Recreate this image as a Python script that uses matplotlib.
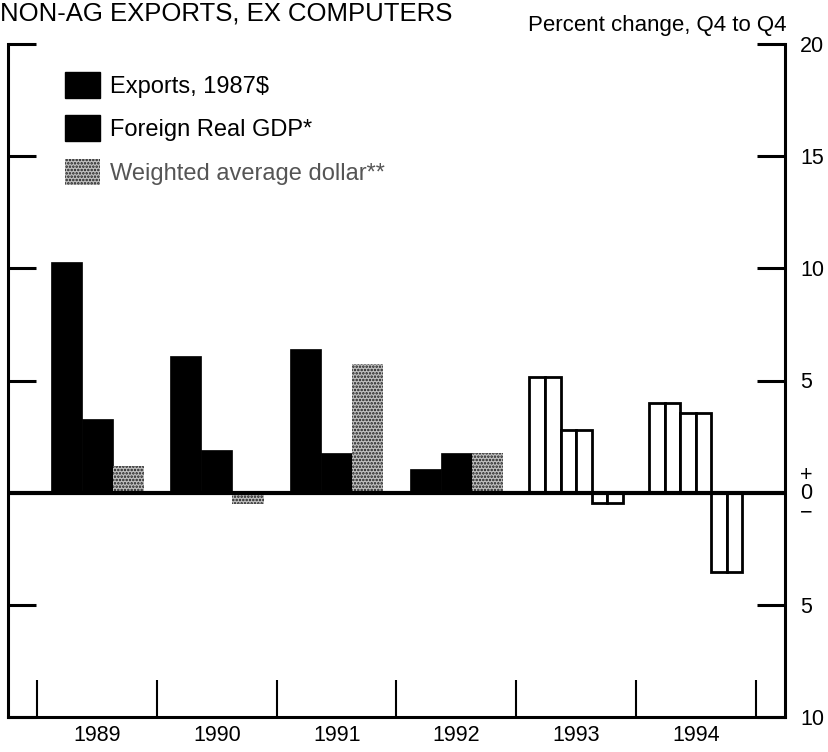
import matplotlib
matplotlib.use("Agg")
import matplotlib.pyplot as plt
import numpy as np
from matplotlib.patches import Patch

plt.rcParams['font.family'] = ['Liberation Sans', 'DejaVu Sans']
plt.rcParams['hatch.linewidth'] = 1.2

years = ['1989', '1990', '1991', '1992', '1993', '1994']
exports = [10.3, 6.1, 6.4, 1.05, 5.15, 4.0]
foreign_gdp = [3.3, 1.9, 1.75, 1.75, 2.8, 3.55]
dollar = [1.2, -0.5, 5.75, 1.75, -0.45, -3.55]
projected = [False, False, False, False, True, True]

series_labels = ['Exports, 1987$', 'Foreign Real GDP*', 'Weighted average dollar**']
ytick_vals = [20, 15, 10, 5, 0, -5, -10]
ytick_text = ['20', '15', '10', '5', '+\n0\n\u2212', '5', '10']

fig = plt.figure(figsize=(8.29, 7.52), dpi=100)
ax = fig.add_axes([8/829, 1-717/752, (785-8)/829, (717-44)/752])

w = 0.26
x = np.arange(len(years))
series = [exports, foreign_gdp, dollar]
offsets = [-w, 0, w]
for si, (vals, off) in enumerate(zip(series, offsets)):
    for i, v in enumerate(vals):
        xc = x[i] + off
        if projected[i]:
            ax.bar([xc - w/4, xc + w/4], [v, v], w/2, color='white',
                   edgecolor='black', linewidth=2.0, zorder=3)
        elif si == 2:
            ax.bar(xc, v, w, color='#c0c0c0', edgecolor='#1a1a1a',
                   hatch='.....', linewidth=0, zorder=3)
        else:
            ax.bar(xc, v, w, color='black', edgecolor='black', linewidth=0.5, zorder=3)

ax.axhline(0, color='black', linewidth=3, zorder=4)

ax.set_xlim(-0.745, 5.745)
ax.set_ylim(-10, 20)

ax.spines['top'].set_visible(False)
for s in ['left', 'right', 'bottom']:
    ax.spines[s].set_linewidth(2.2)

ax.set_yticks(ytick_vals)
ax.set_yticklabels(ytick_text, fontsize=15.5, linespacing=0.85)
ax.tick_params(axis='y', which='major', left=True, right=True, labelleft=False,
               labelright=True, direction='in', length=20, width=2.2, pad=11)
ax.set_yticks([20], minor=True)
ax.tick_params(axis='y', which='minor', left=True, right=True, direction='in',
               length=40, width=2.2)
for t in ax.yaxis.get_major_ticks():
    if t.get_loc() == 0:
        t.tick1line.set_visible(False)
        t.tick2line.set_visible(False)

ax.set_xticks(x)
ax.set_xticklabels(years, fontsize=15.5)
ax.tick_params(axis='x', which='major', length=0, pad=6)
ax.set_xticks(np.arange(-0.5, len(years), 1.0), minor=True)
ax.tick_params(axis='x', which='minor', direction='in', length=27, width=1.5)

fig.text(0.0, 1 - 21/752, 'NON-AG EXPORTS, EX COMPUTERS', fontsize=18.5,
         ha='left', va='baseline')
fig.text(787/829, 1 - 31/752, 'Percent change, Q4 to Q4', fontsize=16,
         ha='right', va='baseline')

handles = [Patch(facecolor='black', edgecolor='black'),
           Patch(facecolor='black', edgecolor='black'),
           Patch(facecolor='#c0c0c0', edgecolor='#1a1a1a', hatch='.....', linewidth=0)]
leg = ax.legend(handles, series_labels, loc='upper left',
                bbox_to_anchor=(65/829, 1 - 72/752), bbox_transform=fig.transFigure,
                frameon=False, fontsize=17, handlelength=1.48, handleheight=1.3,
                handletextpad=0.42, labelspacing=0.75, borderpad=0, borderaxespad=0)
leg.get_texts()[2].set_color('#555555')

fig.savefig('out.png', dpi=100)
